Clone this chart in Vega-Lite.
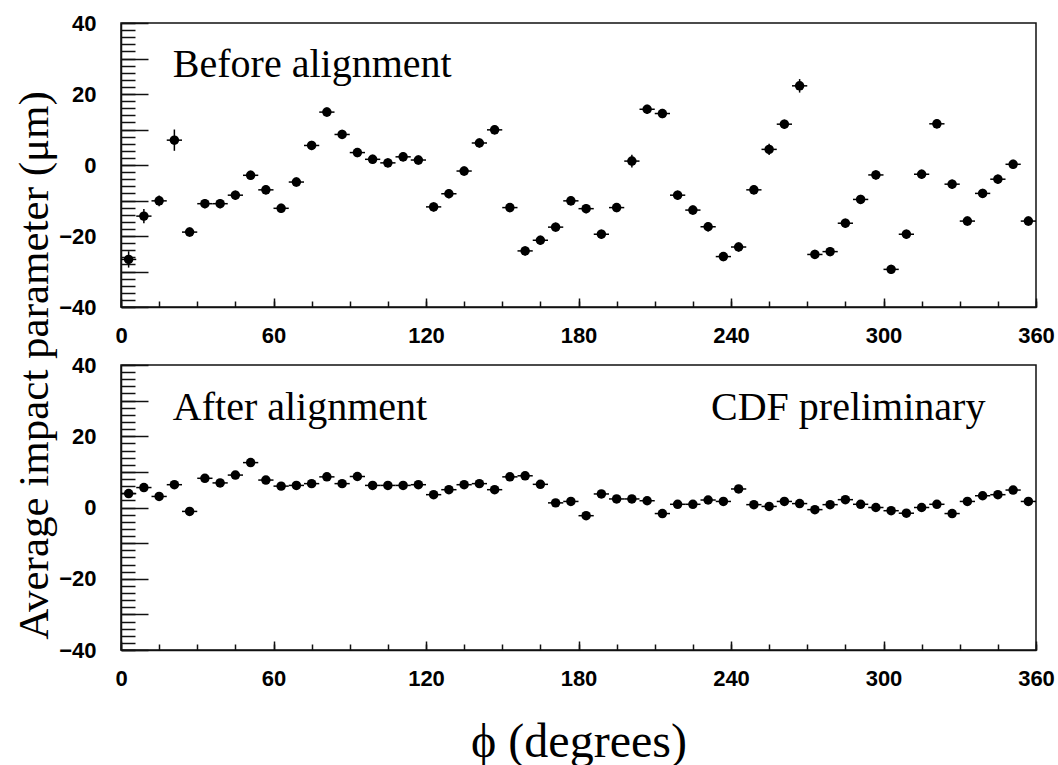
{
  "$schema": "https://vega.github.io/schema/vega-lite/v6.json",
  "background": "white",
  "padding": {"left": 12, "top": 11, "right": 0, "bottom": 0},
  "bounds": "flush",
  "spacing": 58,
  "config": {
    "view": {"stroke": "#111", "strokeWidth": 1.5},
    "axis": {"grid": false, "domainColor": "#111", "domainWidth": 1.5, "tickColor": "#111", "tickWidth": 1.5,
      "labelFont": "Liberation Sans", "labelFontWeight": "bold", "labelFontSize": 22, "labelColor": "#000",
      "labelFlush": false, "labelOverlap": false, "labelAngle": 0,
      "titleFont": "Liberation Serif", "titleFontWeight": "normal", "titleColor": "#000"}
  },
  "datasets": {
    "before": [
      {"phi":3,"lo":0,"hi":6,"v":-26.6,"e":2.3},
      {"phi":9,"lo":6,"hi":12,"v":-14.4,"e":2.0},
      {"phi":15,"lo":12,"hi":18,"v":-10.1,"e":1.5},
      {"phi":21,"lo":18,"hi":24,"v":7.0,"e":3.0},
      {"phi":27,"lo":24,"hi":30,"v":-18.9,"e":1.3},
      {"phi":33,"lo":30,"hi":36,"v":-10.9,"e":1.3},
      {"phi":39,"lo":36,"hi":42,"v":-10.9,"e":1.3},
      {"phi":45,"lo":42,"hi":48,"v":-8.5,"e":1.3},
      {"phi":51,"lo":48,"hi":54,"v":-2.9,"e":1.3},
      {"phi":57,"lo":54,"hi":60,"v":-7.0,"e":1.3},
      {"phi":63,"lo":60,"hi":66,"v":-12.2,"e":1.3},
      {"phi":69,"lo":66,"hi":72,"v":-4.8,"e":1.3},
      {"phi":75,"lo":72,"hi":78,"v":5.5,"e":1.3},
      {"phi":81,"lo":78,"hi":84,"v":14.9,"e":1.3},
      {"phi":87,"lo":84,"hi":90,"v":8.6,"e":1.3},
      {"phi":93,"lo":90,"hi":96,"v":3.5,"e":1.3},
      {"phi":99,"lo":96,"hi":102,"v":1.6,"e":1.3},
      {"phi":105,"lo":102,"hi":108,"v":0.6,"e":1.3},
      {"phi":111,"lo":108,"hi":114,"v":2.3,"e":1.3},
      {"phi":117,"lo":114,"hi":120,"v":1.4,"e":1.3},
      {"phi":123,"lo":120,"hi":126,"v":-11.8,"e":1.3},
      {"phi":129,"lo":126,"hi":132,"v":-8.1,"e":1.3},
      {"phi":135,"lo":132,"hi":138,"v":-1.7,"e":1.3},
      {"phi":141,"lo":138,"hi":144,"v":6.2,"e":1.3},
      {"phi":147,"lo":144,"hi":150,"v":9.9,"e":1.3},
      {"phi":153,"lo":150,"hi":156,"v":-12.0,"e":1.3},
      {"phi":159,"lo":156,"hi":162,"v":-24.2,"e":1.3},
      {"phi":165,"lo":162,"hi":168,"v":-21.2,"e":1.3},
      {"phi":171,"lo":168,"hi":174,"v":-17.5,"e":1.3},
      {"phi":177,"lo":174,"hi":180,"v":-10.1,"e":1.3},
      {"phi":183,"lo":180,"hi":186,"v":-12.3,"e":1.3},
      {"phi":189,"lo":186,"hi":192,"v":-19.5,"e":1.3},
      {"phi":195,"lo":192,"hi":198,"v":-12.0,"e":1.3},
      {"phi":201,"lo":198,"hi":204,"v":1.1,"e":1.8},
      {"phi":207,"lo":204,"hi":210,"v":15.7,"e":1.3},
      {"phi":213,"lo":210,"hi":216,"v":14.5,"e":1.3},
      {"phi":219,"lo":216,"hi":222,"v":-8.5,"e":1.3},
      {"phi":225,"lo":222,"hi":228,"v":-12.7,"e":1.3},
      {"phi":231,"lo":228,"hi":234,"v":-17.4,"e":1.3},
      {"phi":237,"lo":234,"hi":240,"v":-25.8,"e":1.3},
      {"phi":243,"lo":240,"hi":246,"v":-23.1,"e":1.3},
      {"phi":249,"lo":246,"hi":252,"v":-7.0,"e":1.3},
      {"phi":255,"lo":252,"hi":258,"v":4.4,"e":1.6},
      {"phi":261,"lo":258,"hi":264,"v":11.5,"e":1.3},
      {"phi":267,"lo":264,"hi":270,"v":22.3,"e":1.9},
      {"phi":273,"lo":270,"hi":276,"v":-25.2,"e":1.3},
      {"phi":279,"lo":276,"hi":282,"v":-24.4,"e":1.3},
      {"phi":285,"lo":282,"hi":288,"v":-16.4,"e":1.3},
      {"phi":291,"lo":288,"hi":294,"v":-9.7,"e":1.3},
      {"phi":297,"lo":294,"hi":300,"v":-2.8,"e":1.3},
      {"phi":303,"lo":300,"hi":306,"v":-29.4,"e":1.3},
      {"phi":309,"lo":306,"hi":312,"v":-19.5,"e":1.3},
      {"phi":315,"lo":312,"hi":318,"v":-2.6,"e":1.3},
      {"phi":321,"lo":318,"hi":324,"v":11.6,"e":1.3},
      {"phi":327,"lo":324,"hi":330,"v":-5.4,"e":1.3},
      {"phi":333,"lo":330,"hi":336,"v":-15.8,"e":1.3},
      {"phi":339,"lo":336,"hi":342,"v":-8.0,"e":1.3},
      {"phi":345,"lo":342,"hi":348,"v":-4.0,"e":1.3},
      {"phi":351,"lo":348,"hi":354,"v":0.2,"e":1.3},
      {"phi":357,"lo":354,"hi":360,"v":-15.8,"e":1.3}
    ],
    "after": [
      {"phi":3,"lo":0,"hi":6,"v":3.9,"e":1.0},
      {"phi":9,"lo":6,"hi":12,"v":5.6,"e":1.0},
      {"phi":15,"lo":12,"hi":18,"v":3.1,"e":1.0},
      {"phi":21,"lo":18,"hi":24,"v":6.4,"e":1.0},
      {"phi":27,"lo":24,"hi":30,"v":-1.1,"e":1.0},
      {"phi":33,"lo":30,"hi":36,"v":8.2,"e":1.0},
      {"phi":39,"lo":36,"hi":42,"v":6.9,"e":1.0},
      {"phi":45,"lo":42,"hi":48,"v":9.1,"e":1.0},
      {"phi":51,"lo":48,"hi":54,"v":12.6,"e":1.0},
      {"phi":57,"lo":54,"hi":60,"v":7.7,"e":1.0},
      {"phi":63,"lo":60,"hi":66,"v":6.0,"e":1.0},
      {"phi":69,"lo":66,"hi":72,"v":6.2,"e":1.0},
      {"phi":75,"lo":72,"hi":78,"v":6.7,"e":1.0},
      {"phi":81,"lo":78,"hi":84,"v":8.6,"e":1.0},
      {"phi":87,"lo":84,"hi":90,"v":6.7,"e":1.0},
      {"phi":93,"lo":90,"hi":96,"v":8.7,"e":1.0},
      {"phi":99,"lo":96,"hi":102,"v":6.2,"e":1.0},
      {"phi":105,"lo":102,"hi":108,"v":6.2,"e":1.0},
      {"phi":111,"lo":108,"hi":114,"v":6.2,"e":1.0},
      {"phi":117,"lo":114,"hi":120,"v":6.4,"e":1.0},
      {"phi":123,"lo":120,"hi":126,"v":3.6,"e":1.0},
      {"phi":129,"lo":126,"hi":132,"v":5.0,"e":1.0},
      {"phi":135,"lo":132,"hi":138,"v":6.4,"e":1.0},
      {"phi":141,"lo":138,"hi":144,"v":6.7,"e":1.0},
      {"phi":147,"lo":144,"hi":150,"v":5.0,"e":1.0},
      {"phi":153,"lo":150,"hi":156,"v":8.6,"e":1.0},
      {"phi":159,"lo":156,"hi":162,"v":8.9,"e":1.0},
      {"phi":165,"lo":162,"hi":168,"v":6.5,"e":1.0},
      {"phi":171,"lo":168,"hi":174,"v":1.3,"e":1.0},
      {"phi":177,"lo":174,"hi":180,"v":1.7,"e":1.0},
      {"phi":183,"lo":180,"hi":186,"v":-2.3,"e":1.0},
      {"phi":189,"lo":186,"hi":192,"v":3.8,"e":1.0},
      {"phi":195,"lo":192,"hi":198,"v":2.4,"e":1.0},
      {"phi":201,"lo":198,"hi":204,"v":2.4,"e":1.0},
      {"phi":207,"lo":204,"hi":210,"v":1.9,"e":1.0},
      {"phi":213,"lo":210,"hi":216,"v":-1.7,"e":1.0},
      {"phi":219,"lo":216,"hi":222,"v":0.9,"e":1.0},
      {"phi":225,"lo":222,"hi":228,"v":0.9,"e":1.0},
      {"phi":231,"lo":228,"hi":234,"v":2.1,"e":1.0},
      {"phi":237,"lo":234,"hi":240,"v":1.7,"e":1.0},
      {"phi":243,"lo":240,"hi":246,"v":5.2,"e":1.0},
      {"phi":249,"lo":246,"hi":252,"v":0.8,"e":1.0},
      {"phi":255,"lo":252,"hi":258,"v":0.3,"e":1.0},
      {"phi":261,"lo":258,"hi":264,"v":1.7,"e":1.0},
      {"phi":267,"lo":264,"hi":270,"v":1.1,"e":1.0},
      {"phi":273,"lo":270,"hi":276,"v":-0.6,"e":1.0},
      {"phi":279,"lo":276,"hi":282,"v":0.8,"e":1.0},
      {"phi":285,"lo":282,"hi":288,"v":2.2,"e":1.0},
      {"phi":291,"lo":288,"hi":294,"v":0.9,"e":1.0},
      {"phi":297,"lo":294,"hi":300,"v":0.0,"e":1.0},
      {"phi":303,"lo":300,"hi":306,"v":-0.9,"e":1.0},
      {"phi":309,"lo":306,"hi":312,"v":-1.6,"e":1.0},
      {"phi":315,"lo":312,"hi":318,"v":0.0,"e":1.0},
      {"phi":321,"lo":318,"hi":324,"v":0.9,"e":1.0},
      {"phi":327,"lo":324,"hi":330,"v":-1.7,"e":1.0},
      {"phi":333,"lo":330,"hi":336,"v":1.7,"e":1.0},
      {"phi":339,"lo":336,"hi":342,"v":3.3,"e":1.0},
      {"phi":345,"lo":342,"hi":348,"v":3.6,"e":1.0},
      {"phi":351,"lo":348,"hi":354,"v":4.9,"e":1.0},
      {"phi":357,"lo":354,"hi":360,"v":1.7,"e":1.0}
    ]
  },
  "vconcat": [
    {
      "width": 915, "height": 284,
      "data": {"name": "before"},
      "layer": [
        {
          "mark": {"type": "rule", "strokeWidth": 1.5, "color": "black"},
          "encoding": {
            "x": {"field": "lo", "type": "quantitative", "scale": {"domain": [0, 360], "nice": false, "zero": false},
              "axis": {"orient": "bottom", "values": [0, 60, 120, 180, 240, 300, 360], "tickSize": -9, "labelPadding": 27, "title": null}},
            "x2": {"field": "hi"},
            "y": {"field": "v", "type": "quantitative", "scale": {"domain": [-40, 40], "nice": false, "zero": false},
              "axis": {"orient": "left", "values": [-40, -20, 0, 20, 40], "tickSize": -27, "labelPadding": 52,
                "title": "Average impact parameter (μm)", "titleFontSize": 43, "titleX": -74, "titleY": 342,
                "titleAngle": -90, "titleBaseline": "alphabetic", "titleAlign": "center"}}
          }
        },
        {
          "mark": {"type": "errorbar", "ticks": false, "rule": {"strokeWidth": 1.5, "color": "black"}},
          "encoding": {
            "x": {"field": "phi", "type": "quantitative",
              "axis": {"orient": "bottom", "values": [0, 15, 30, 45, 60, 75, 90, 105, 120, 135, 150, 165, 180, 195, 210, 225, 240, 255, 270, 285, 300, 315, 330, 345, 360], "tickSize": -6, "labels": false, "domain": false, "title": null}},
            "y": {"field": "v", "type": "quantitative",
              "axis": {"orient": "left", "values": [-30, -10, 10, 30], "tickSize": -27, "labels": false, "domain": false, "title": null}},
            "yError": {"field": "e"}
          }
        },
        {
          "mark": {"type": "circle", "size": 90, "color": "black", "opacity": 1},
          "encoding": {
            "x": {"field": "phi", "type": "quantitative", "axis": null},
            "y": {"field": "v", "type": "quantitative",
              "axis": {"orient": "left", "values": [-40, -38, -36, -34, -32, -30, -28, -26, -24, -22, -20, -18, -16, -14, -12, -10, -8, -6, -4, -2, 0, 2, 4, 6, 8, 10, 12, 14, 16, 18, 20, 22, 24, 26, 28, 30, 32, 34, 36, 38, 40], "tickSize": -14, "labels": false, "domain": false, "title": null}}
          }
        },
        {
          "data": {"values": [{"x": 20.4, "y": 24.9, "label": "Before alignment"}]},
          "mark": {"type": "text", "font": "Liberation Serif", "fontSize": 40, "align": "left", "baseline": "alphabetic", "color": "black"},
          "encoding": {
            "x": {"field": "x", "type": "quantitative", "axis": null},
            "y": {"field": "y", "type": "quantitative", "axis": null},
            "text": {"field": "label"}
          }
        }
      ],
      "resolve": {"axis": {"x": "independent", "y": "independent"}}
    },
    {
      "width": 915, "height": 285,
      "data": {"name": "after"},
      "layer": [
        {
          "mark": {"type": "rule", "strokeWidth": 1.5, "color": "black"},
          "encoding": {
            "x": {"field": "lo", "type": "quantitative", "scale": {"domain": [0, 360], "nice": false, "zero": false},
              "axis": {"orient": "bottom", "values": [0, 60, 120, 180, 240, 300, 360], "tickSize": -9, "labelPadding": 27,
                "title": "ϕ (degrees)", "titleFontSize": 48, "titleX": 457.5, "titleY": 106, "titleBaseline": "alphabetic", "titleAlign": "center"}},
            "x2": {"field": "hi"},
            "y": {"field": "v", "type": "quantitative", "scale": {"domain": [-40, 40], "nice": false, "zero": false},
              "axis": {"orient": "left", "values": [-40, -20, 0, 20, 40], "tickSize": -27, "labelPadding": 52, "title": null}}
          }
        },
        {
          "mark": {"type": "errorbar", "ticks": false, "rule": {"strokeWidth": 1.5, "color": "black"}},
          "encoding": {
            "x": {"field": "phi", "type": "quantitative",
              "axis": {"orient": "bottom", "values": [0, 15, 30, 45, 60, 75, 90, 105, 120, 135, 150, 165, 180, 195, 210, 225, 240, 255, 270, 285, 300, 315, 330, 345, 360], "tickSize": -6, "labels": false, "domain": false, "title": null}},
            "y": {"field": "v", "type": "quantitative",
              "axis": {"orient": "left", "values": [-30, -10, 10, 30], "tickSize": -27, "labels": false, "domain": false, "title": null}},
            "yError": {"field": "e"}
          }
        },
        {
          "mark": {"type": "circle", "size": 90, "color": "black", "opacity": 1},
          "encoding": {
            "x": {"field": "phi", "type": "quantitative", "axis": null},
            "y": {"field": "v", "type": "quantitative",
              "axis": {"orient": "left", "values": [-40, -38, -36, -34, -32, -30, -28, -26, -24, -22, -20, -18, -16, -14, -12, -10, -8, -6, -4, -2, 0, 2, 4, 6, 8, 10, 12, 14, 16, 18, 20, 22, 24, 26, 28, 30, 32, 34, 36, 38, 40], "tickSize": -14, "labels": false, "domain": false, "title": null}}
          }
        },
        {
          "data": {"values": [{"x": 20.4, "y": 24.6, "label": "After alignment", "a": "left"}, {"x": 340.1, "y": 24.6, "label": "CDF preliminary", "a": "right"}]},
          "layer": [
            {
              "transform": [{"filter": "datum.a === 'left'"}],
              "mark": {"type": "text", "font": "Liberation Serif", "fontSize": 40, "align": "left", "baseline": "alphabetic", "color": "black"},
              "encoding": {
                "x": {"field": "x", "type": "quantitative", "axis": null},
                "y": {"field": "y", "type": "quantitative", "axis": null},
                "text": {"field": "label"}
              }
            },
            {
              "transform": [{"filter": "datum.a === 'right'"}],
              "mark": {"type": "text", "font": "Liberation Serif", "fontSize": 40, "align": "right", "baseline": "alphabetic", "color": "black"},
              "encoding": {
                "x": {"field": "x", "type": "quantitative", "axis": null},
                "y": {"field": "y", "type": "quantitative", "axis": null},
                "text": {"field": "label"}
              }
            }
          ]
        }
      ],
      "resolve": {"axis": {"x": "independent", "y": "independent"}}
    }
  ]
}
